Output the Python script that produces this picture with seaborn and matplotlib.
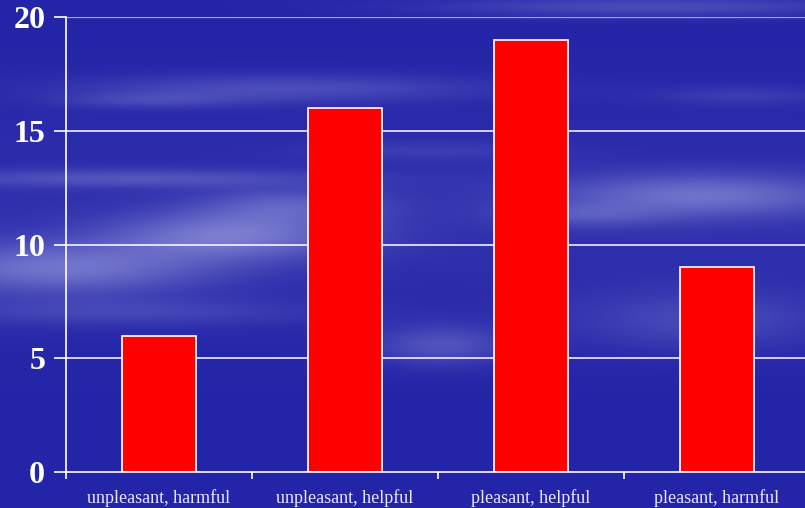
import numpy as np
import pandas as pd
import matplotlib
matplotlib.use("Agg")
import matplotlib.pyplot as plt
import seaborn as sns

# Counts per category
categories = ["unpleasant, harmful", "unpleasant, helpful", "pleasant, helpful", "pleasant, harmful"]
counts = [6, 16, 19, 9]
y_ticks = [0, 5, 10, 15, 20]

df = pd.DataFrame({"category": categories, "count": counts})

sns.set_theme(style="white")
plt.rcParams["font.family"] = ["Liberation Serif", "DejaVu Serif"]

W, H, DPI = 805, 508, 100
fig = plt.figure(figsize=(W / DPI, H / DPI), dpi=DPI)

# Cloudy blue sky backdrop built from soft horizontal streaks
yy, xx = np.mgrid[0:H, 0:W].astype(float)
base = np.array([36, 36, 168]) / 255.0
streaks = [
    # (cx, cy, sx, sy, strength)
    (60, 268, 150, 26, 0.40),
    (230, 235, 120, 24, 0.42),
    (290, 205, 90, 18, 0.25),
    (130, 178, 200, 9, 0.22),
    (280, 88, 200, 14, 0.22),
    (150, 100, 90, 8, 0.15),
    (700, 195, 150, 22, 0.38),
    (580, 215, 80, 12, 0.18),
    (440, 345, 70, 20, 0.25),
    (700, 320, 130, 30, 0.18),
    (120, 312, 200, 14, 0.15),
    (650, 6, 220, 10, 0.22),
    (740, 95, 90, 10, 0.12),
    (430, 150, 120, 10, 0.10),
]
glow = np.zeros((H, W))
for cx, cy, sx, sy, s in streaks:
    glow += s * np.exp(-(((xx - cx) / sx) ** 2 + ((yy - cy) / sy) ** 2))
glow += 0.07 * np.exp(-((yy - 220) / 110) ** 2)
glow = np.clip(glow, 0, 0.55)
light = np.array([0.80, 0.82, 0.96])
img = base[None, None, :] * (1 - glow[..., None]) + light[None, None, :] * glow[..., None]

bg = fig.add_axes([0, 0, 1, 1], zorder=0)
bg.imshow(img, aspect="auto", extent=[0, 1, 0, 1], origin="upper")
bg.axis("off")

ax = fig.add_axes([66 / W, (H - 472) / H, 744 / W, 455 / H], zorder=1)
ax.patch.set_alpha(0)

sns.barplot(data=df, x="category", y="count", color="#ff0000", width=0.4,
            edgecolor="white", linewidth=1.2, saturation=1, ax=ax, zorder=3)

ax.set_xlim(-0.5, 3.5)
ax.set_ylim(0, 20)
ax.set_yticks(y_ticks)
ax.set_yticklabels([str(t) for t in y_ticks], fontsize=23, fontweight="bold", color="white")
ax.tick_params(axis="y", length=9, width=1.2, color="white", pad=6, left=True)

ax.set_xticks(range(len(categories)))
ax.set_xticklabels(categories, fontsize=13, color="#e8e8ff")
ax.tick_params(axis="x", which="major", length=0, pad=12)
ax.set_xticks(np.arange(-0.5, 4.0, 1.0), minor=True)
ax.tick_params(axis="x", which="minor", length=5, width=1.2, color="white", bottom=True)

for t in y_ticks[1:-1]:
    ax.axhline(t, color="white", linewidth=1.1, zorder=1)
ax.axhline(20, color="#a8a8b8", linewidth=1.6, zorder=1)

ax.set_xlabel("")
ax.set_ylabel("")
for side in ["top", "right"]:
    ax.spines[side].set_visible(False)
for side in ["left", "bottom"]:
    ax.spines[side].set_color("white")
    ax.spines[side].set_linewidth(1.2)
    ax.spines[side].set_zorder(4)

fig.savefig("out.png", dpi=DPI)
